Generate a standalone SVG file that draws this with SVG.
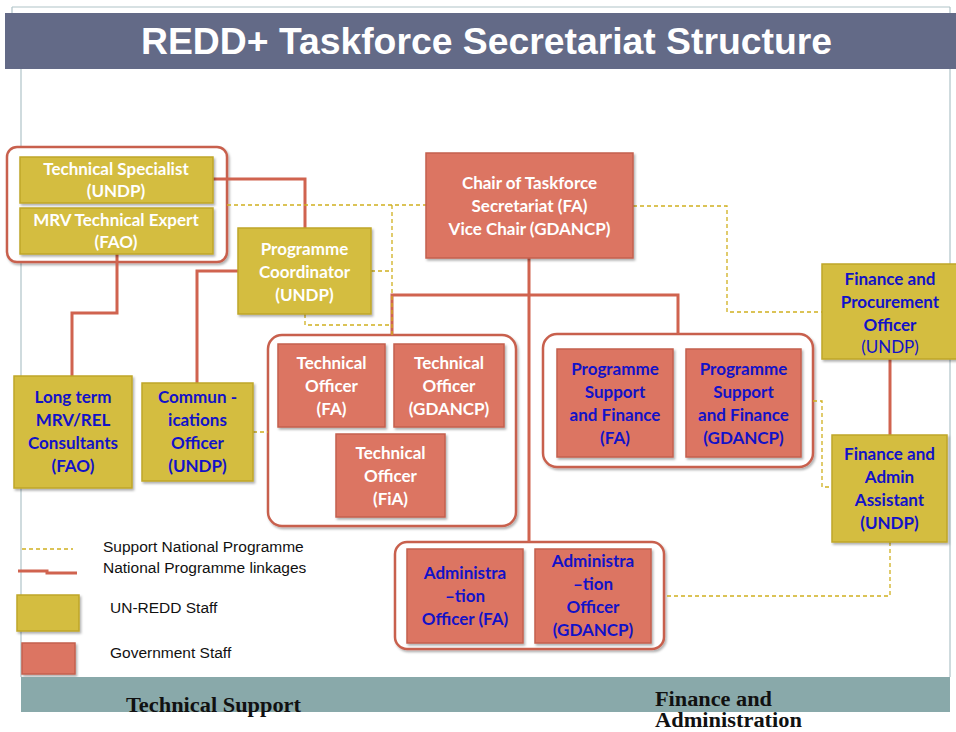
<svg xmlns="http://www.w3.org/2000/svg" width="956" height="732" viewBox="0 0 956 732">
<defs>
<filter id="sh" x="-10%" y="-10%" width="130%" height="130%">
<feDropShadow dx="1.5" dy="2" stdDeviation="1.2" flood-color="#000" flood-opacity="0.3"/>
</filter>
<style>
.y{fill:#d4bd3f;stroke:#bfa62a;stroke-width:1.5;filter:url(#sh)}
.r{fill:#dc7562;stroke:#c4604e;stroke-width:1.5;filter:url(#sh)}
.g{fill:#fff;stroke:#c8614e;stroke-width:2.5;filter:url(#sh)}
.t{font-family:Lato,"Liberation Sans",sans-serif;font-weight:bold;font-size:17px;text-anchor:middle}
.t.n{font-weight:normal}
.w{fill:#fff}
.b{fill:#1212c8}
.rl{fill:none;stroke:#d0634f;stroke-width:3}
.dl{fill:none;stroke:#d0b01f;stroke-width:1.3;stroke-dasharray:4 3}
.lg{font-family:"Liberation Sans",Arial,sans-serif;font-size:15.5px;fill:#111}
.ft{font-family:"Liberation Serif","Times New Roman",serif;font-weight:bold;font-size:20px;fill:#111}
.fr{fill:none;stroke:#b0c4c8;stroke-width:1.2}
</style>
</defs>
<rect width="956" height="732" fill="#fff"/>
<g id="frame">
<path class="fr" d="M12,7 H950 M12,7 V13 M950,7 V13 M21,69 V677 M950,69 V677"/>
<rect x="5" y="13" width="951" height="56" fill="#636a87"/>
<text x="141" y="54" font-family="'Liberation Sans',Arial,sans-serif" font-weight="bold" font-size="37" fill="#fff" textLength="691" lengthAdjust="spacingAndGlyphs">REDD+ Taskforce Secretariat Structure</text>
</g>
<g id="groups">
<rect id="grp-tech-specialist" class="g" x="7" y="147" width="220" height="115" rx="10"/>
<rect id="grp-technical-officers" class="g" x="268" y="335" width="248" height="191" rx="14"/>
<rect id="grp-programme-support" class="g" x="543" y="334" width="270" height="133" rx="14"/>
<rect id="grp-administration" class="g" x="395" y="542" width="269" height="107" rx="12"/>
</g>
<g id="connectors">
<path class="rl" d="M213,179 H305 V228"/>
<path class="rl" d="M117,254 V313 H72 V376"/>
<path class="rl" d="M238,271 H197 V383"/>
<path class="rl" d="M529,258 V542"/>
<path class="rl" d="M392,335 V295 H678 V334"/>
<path class="rl" d="M890,359 V435"/>
<path class="dl" d="M227,205 H426"/>
<path class="dl" d="M392,205 V335"/>
<path class="dl" d="M371,271 H392"/>
<path class="dl" d="M305,314 V325 H392"/>
<path class="dl" d="M633,206 H727 V312 H822"/>
<path class="dl" d="M813,401 H822 V487 H832"/>
<path class="dl" d="M890,542 V596 H664"/>
<path class="dl" d="M253,432 H268"/>
</g>
<g id="technical-specialist">
<rect class="y" x="20" y="157" width="193" height="46"/>
<text class="t w" x="116" y="175">Technical Specialist</text>
<text class="t w" x="116" y="197">(UNDP)</text>
</g>
<g id="mrv-technical-expert">
<rect class="y" x="20" y="208" width="193" height="46"/>
<text class="t w" x="116" y="226">MRV Technical Expert</text>
<text class="t w" x="116" y="248">(FAO)</text>
</g>
<g id="programme-coordinator">
<rect class="y" x="238" y="228" width="133" height="86"/>
<text class="t w" x="304.5" y="255">Programme</text>
<text class="t w" x="304.5" y="278">Coordinator</text>
<text class="t w" x="304.5" y="301">(UNDP)</text>
</g>
<g id="chair">
<rect class="r" x="426" y="153" width="207" height="105"/>
<text class="t w" x="529.5" y="189">Chair of Taskforce</text>
<text class="t w" x="529.5" y="212">Secretariat (FA)</text>
<text class="t w" x="529.5" y="235">Vice Chair (GDANCP)</text>
</g>
<g id="long-term-consultants">
<rect class="y" x="14" y="376" width="118" height="112"/>
<text class="t b" x="73" y="403">Long term</text>
<text class="t b" x="73" y="426">MRV/REL</text>
<text class="t b" x="73" y="449">Consultants</text>
<text class="t b" x="73" y="472">(FAO)</text>
</g>
<g id="communications-officer">
<rect class="y" x="142" y="383" width="111" height="98"/>
<text class="t b" x="197.5" y="403">Commun -</text>
<text class="t b" x="197.5" y="426">ications</text>
<text class="t b" x="197.5" y="449">Officer</text>
<text class="t b" x="197.5" y="472">(UNDP)</text>
</g>
<g id="technical-officer-fa">
<rect class="r" x="278" y="344" width="107" height="83"/>
<text class="t w" x="331.5" y="369">Technical</text>
<text class="t w" x="331.5" y="392">Officer</text>
<text class="t w" x="331.5" y="415">(FA)</text>
</g>
<g id="technical-officer-gdancp">
<rect class="r" x="394" y="344" width="110" height="83"/>
<text class="t w" x="449" y="369">Technical</text>
<text class="t w" x="449" y="392">Officer</text>
<text class="t w" x="449" y="415">(GDANCP)</text>
</g>
<g id="technical-officer-fia">
<rect class="r" x="336" y="434" width="109" height="83"/>
<text class="t w" x="390.5" y="459">Technical</text>
<text class="t w" x="390.5" y="482">Officer</text>
<text class="t w" x="390.5" y="505">(FiA)</text>
</g>
<g id="programme-support-fa">
<rect class="r" x="557" y="349" width="116" height="108"/>
<text class="t b" x="615" y="375">Programme</text>
<text class="t b" x="615" y="398">Support</text>
<text class="t b" x="615" y="421">and Finance</text>
<text class="t b" x="615" y="444">(FA)</text>
</g>
<g id="programme-support-gdancp">
<rect class="r" x="686" y="349" width="115" height="108"/>
<text class="t b" x="743.5" y="375">Programme</text>
<text class="t b" x="743.5" y="398">Support</text>
<text class="t b" x="743.5" y="421">and Finance</text>
<text class="t b" x="743.5" y="444">(GDANCP)</text>
</g>
<g id="finance-procurement-officer">
<rect class="y" x="822" y="264" width="136" height="95"/>
<text class="t b" x="890" y="285">Finance and</text>
<text class="t b" x="890" y="308">Procurement</text>
<text class="t b" x="890" y="331">Officer</text>
<text class="t b n" x="890" y="353">(UNDP)</text>
</g>
<g id="finance-admin-assistant">
<rect class="y" x="832" y="435" width="115" height="107"/>
<text class="t b" x="889.5" y="460">Finance and</text>
<text class="t b" x="889.5" y="483">Admin</text>
<text class="t b" x="889.5" y="506">Assistant</text>
<text class="t b" x="889.5" y="529">(UNDP)</text>
</g>
<g id="administration-officer-fa">
<rect class="r" x="407" y="549" width="116" height="94"/>
<text class="t b" x="465" y="579">Administra</text>
<text class="t b" x="465" y="602">–tion</text>
<text class="t b" x="465" y="625">Officer (FA)</text>
</g>
<g id="administration-officer-gdancp">
<rect class="r" x="535" y="549" width="116" height="94"/>
<text class="t b" x="593" y="567">Administra</text>
<text class="t b" x="593" y="590">–tion</text>
<text class="t b" x="593" y="613">Officer</text>
<text class="t b" x="593" y="636">(GDANCP)</text>
</g>
<g id="legend">
<path class="dl" d="M22,549 H73"/>
<path class="rl" d="M18,571 H47 V573 H77" stroke-width="2.5"/>
<text class="lg" x="103" y="552">Support National Programme</text>
<text class="lg" x="103" y="573">National Programme linkages</text>
<rect class="y" x="17" y="595" width="62" height="36"/>
<text class="lg" x="110" y="613">UN-REDD Staff</text>
<rect class="r" x="22" y="643" width="53" height="31"/>
<text class="lg" x="110" y="658">Government Staff</text>
</g>
<g id="footer">
<rect x="21" y="677" width="929" height="35" fill="#89a9aa"/>
<text class="ft" x="126" y="712" textLength="175" lengthAdjust="spacingAndGlyphs">Technical Support</text>
<text class="ft" x="655" y="706" textLength="117" lengthAdjust="spacingAndGlyphs">Finance and</text>
<text class="ft" x="655" y="727" textLength="147" lengthAdjust="spacingAndGlyphs">Administration</text>
</g>
</svg>
